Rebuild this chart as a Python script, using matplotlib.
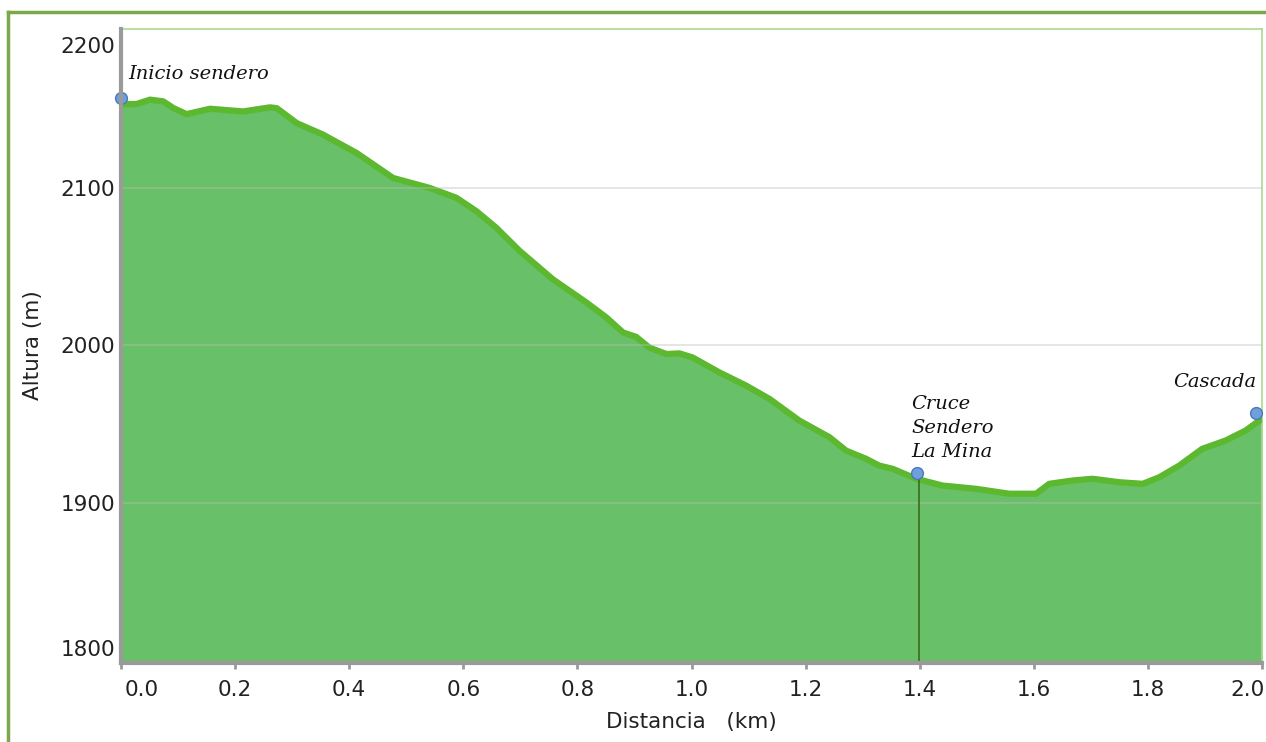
import matplotlib
matplotlib.use("Agg")
import matplotlib.pyplot as plt
from matplotlib.lines import Line2D
import matplotlib.transforms as mtransforms

# ---- data ----
dist_km = [0.000, 0.027, 0.051, 0.074, 0.092, 0.115, 0.156, 0.214, 0.261, 0.273,
           0.308, 0.354, 0.413, 0.477, 0.541, 0.588, 0.623, 0.658, 0.699, 0.757,
           0.816, 0.851, 0.880, 0.903, 0.926, 0.956, 0.979, 1.002, 1.049, 1.096,
           1.137, 1.189, 1.242, 1.271, 1.306, 1.329, 1.353, 1.394, 1.440, 1.499,
           1.557, 1.604, 1.627, 1.668, 1.703, 1.750, 1.791, 1.820, 1.855, 1.895,
           1.936, 1.971, 2.000]
altitude_m = [2153.3, 2153.3, 2156.1, 2155.0, 2150.7, 2146.9, 2150.3, 2148.6, 2151.2, 2150.7,
              2141.2, 2133.9, 2122.2, 2106.3, 2100.0, 2093.7, 2085.2, 2074.6, 2059.9, 2041.9,
              2027.1, 2017.6, 2008.1, 2005.3, 1998.5, 1994.4, 1994.8, 1992.2, 1982.7, 1974.3,
              1965.8, 1952.1, 1941.5, 1933.0, 1927.8, 1923.5, 1921.4, 1915.1, 1910.8, 1908.7,
              1905.6, 1905.6, 1911.9, 1914.0, 1915.1, 1912.9, 1911.9, 1916.1, 1923.5, 1934.1,
              1939.4, 1945.7, 1953.3]

waypoint_names = ["Inicio sendero", "Cruce\nSendero\nLa Mina", "Cascada"]
waypoint_km = [0.0, 1.395, 1.99]
waypoint_alt = [2157, 1919, 1957]

x_ticks = [0.0, 0.2, 0.4, 0.6, 0.8, 1.0, 1.2, 1.4, 1.6, 1.8, 2.0]
y_ticks = [1800, 1900, 2000, 2100, 2200]

# ---- figure ----
W, H = 1266, 742
fig = plt.figure(figsize=(W / 100, H / 100), dpi=100)
fig.patch.set_facecolor("white")

ax = fig.add_axes([121 / W, 1 - 663 / H, (1262 - 121) / W, (663 - 29) / H])
ax.set_xlim(0, 2.0)
ax.set_ylim(1798, 2201)

ax.fill_between(dist_km, altitude_m, 1790, color="#68c068", lw=0, zorder=2)
ax.plot(dist_km, altitude_m, color="#5cb82e", lw=4.5, solid_capstyle="round",
        solid_joinstyle="round", zorder=3)

# grid
for yv in [1900, 2000, 2100]:
    ax.axhline(yv, color="#bbbbbb", lw=1.2, alpha=0.45, zorder=4)

# Cruce vertical line
ax.plot([waypoint_km[1] + 0.004, waypoint_km[1] + 0.004], [1798, waypoint_alt[1] - 3],
        color="#3a6e1a", lw=1.2, zorder=5)

# markers
ax.plot(waypoint_km, waypoint_alt, linestyle="none", marker="o", markersize=8.5,
        markerfacecolor="#6f9fdc", markeredgecolor="#4a78b8", markeredgewidth=1,
        zorder=6, clip_on=False)

serif = dict(family="DejaVu Serif", style="italic", fontsize=14, color="#111111")
ax.text(0.012, 2172.5, waypoint_names[0], ha="left", va="center", zorder=7, **serif)
ax.text(1.385, 1968.5, waypoint_names[1], ha="left", va="top", linespacing=1.45,
        zorder=7, **serif)
ax.text(1.99, 1976.5, waypoint_names[2], ha="right", va="center", zorder=7, **serif)

# spines
for s in ["top", "right"]:
    ax.spines[s].set_color("#a9d98c")
    ax.spines[s].set_linewidth(1.2)
for s in ["left", "bottom"]:
    ax.spines[s].set_color("#9a9a9a")
    ax.spines[s].set_linewidth(3)
    ax.spines[s].set_zorder(8)

ax.set_xticks(x_ticks)
ax.set_xticklabels([f"{v:.1f}" for v in x_ticks])
ax.set_yticks(y_ticks)
ax.set_yticklabels([str(v) for v in y_ticks])
ax.tick_params(axis="x", length=4, width=2, color="#9a9a9a", pad=8,
               labelsize=15.5, labelcolor="#222222")
ax.tick_params(axis="y", length=0, pad=4, labelsize=15.5, labelcolor="#222222")

xl = ax.get_xticklabels()
xl[0].set_ha("left")
xl[0].set_transform(xl[0].get_transform() +
                    mtransforms.ScaledTranslation(4 / 100, 0, fig.dpi_scale_trans))
xl[-1].set_ha("right")
xl[-1].set_transform(xl[-1].get_transform() +
                     mtransforms.ScaledTranslation(3 / 100, 0, fig.dpi_scale_trans))
yl = ax.get_yticklabels()
yl[0].set_va("bottom")
yl[-1].set_va("top")
yl[-1].set_transform(yl[-1].get_transform() +
                     mtransforms.ScaledTranslation(0, -6 / 100, fig.dpi_scale_trans))

fig.text(691 / W, 1 - 722 / H, "Distancia   (km)", ha="center", va="center",
         fontsize=15.5, color="#222222")
fig.text(33 / W, 1 - 345 / H, "Altura (m)", ha="center", va="center",
         rotation=90, fontsize=15.5, color="#222222")

# outer frame
fig.add_artist(Line2D([8 / W, 1.0], [1 - 12 / H, 1 - 12 / H], transform=fig.transFigure,
                      color="#7aa84a", lw=2.5))
fig.add_artist(Line2D([8 / W, 8 / W], [1 - 12 / H, 0.0], transform=fig.transFigure,
                      color="#7aa84a", lw=2.5))

fig.savefig("out.png", dpi=100)
